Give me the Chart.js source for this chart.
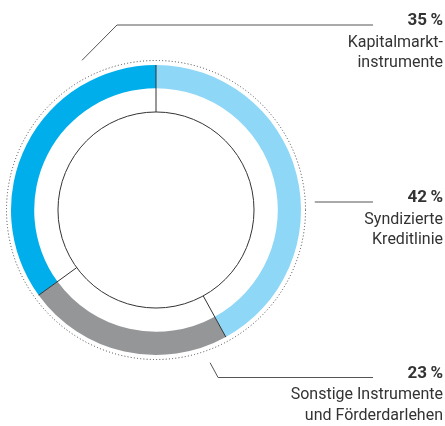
<!DOCTYPE html>
<html lang="de">
<head>
<meta charset="UTF-8">
<title>Finanzierungsinstrumente</title>
<script src="https://cdn.jsdelivr.net/npm/chart.js"></script>
<style>
    html, body { margin: 0; padding: 0; background: #fff; }
    #wrap { width: 445px; height: 426px; }
</style>
</head>
<body>
<div id="wrap"><canvas id="ringChart" width="445" height="426"></canvas></div>
<script>
    // data, clockwise from 12 o'clock
    const categories = [
        ['Syndizierte', 'Kreditlinie'],
        ['Sonstige Instrumente', 'und Förderdarlehen'],
        ['Kapitalmarkt-', 'instrumente']
    ];
    const shares = [42, 23, 35];
    const shareLabels = shares.map(v => v + '\u2009%');

    const segmentColors = ['#8fd7f6', '#959698', '#00aeeb'];

    // leader lines: start on a polar point around the ring, optional kink, then flat to the label
    const leaders = [
        { angle: 87.1, r: 159, kinkDx: 0, y: 202 },
        { angle: 160.5, r: 162, kinkDx: 8, y: 377.5 },
        { angle: 333.7, r: 167, kinkDx: 35, y: 25 }
    ];

    const ringDecor = {
        id: 'ringDecor',
        afterDatasetsDraw(chart) {
            const arcs = chart.getDatasetMeta(0).data;
            if (!arcs.length) return;
            const cx = arcs[0].x, cy = arcs[0].y;
            const outer = arcs[0].outerRadius;
            const innerCircle = outer * 0.676;
            const ctx = chart.ctx;
            ctx.save();

            // dotted outer circle
            ctx.strokeStyle = '#444';
            ctx.lineWidth = 1;
            ctx.setLineDash([1, 2.2]);
            ctx.beginPath();
            ctx.arc(cx, cy, outer + 4.5, 0, Math.PI * 2);
            ctx.stroke();
            ctx.setLineDash([]);

            // inner circle
            ctx.strokeStyle = '#333';
            ctx.beginPath();
            ctx.arc(cx, cy, innerCircle, 0, Math.PI * 2);
            ctx.stroke();

            // separators between segments
            arcs.forEach(a => {
                const t = a.startAngle;
                ctx.beginPath();
                ctx.moveTo(cx + Math.cos(t) * innerCircle, cy + Math.sin(t) * innerCircle);
                ctx.lineTo(cx + Math.cos(t) * a.outerRadius, cy + Math.sin(t) * a.outerRadius);
                ctx.stroke();
            });

            // leaders + labels
            const lineEnd = 373;
            const textRight = 443;
            leaders.forEach((l, i) => {
                const rad = l.angle * Math.PI / 180;
                const sx = cx + Math.sin(rad) * l.r;
                const sy = cy - Math.cos(rad) * l.r;
                ctx.strokeStyle = '#555';
                ctx.beginPath();
                ctx.moveTo(sx, sy);
                ctx.lineTo(sx + l.kinkDx, l.y);
                ctx.lineTo(lineEnd, l.y);
                ctx.stroke();

                ctx.fillStyle = '#333';
                ctx.textAlign = 'right';
                ctx.textBaseline = 'alphabetic';
                ctx.font = 'bold 17px Roboto';
                ctx.fillText(shareLabels[i], textRight, l.y);
                ctx.font = '16px Roboto';
                ctx.fillText(categories[i][0], textRight, l.y + 21.5);
                ctx.fillText(categories[i][1], textRight, l.y + 42);
            });
            ctx.restore();
        }
    };

    new Chart(document.getElementById('ringChart'), {
        type: 'doughnut',
        data: {
            labels: categories.map(c => c.join(' ')),
            datasets: [{
                data: shares,
                backgroundColor: segmentColors,
                borderWidth: 0
            }]
        },
        options: {
            responsive: false,
            animation: false,
            cutout: '84%',
            layout: { padding: { left: 11, right: 144, top: 65, bottom: 71 } },
            events: [],
            plugins: {
                legend: { display: false },
                tooltip: { enabled: false }
            }
        },
        plugins: [ringDecor]
    });
</script>
</body>
</html>
